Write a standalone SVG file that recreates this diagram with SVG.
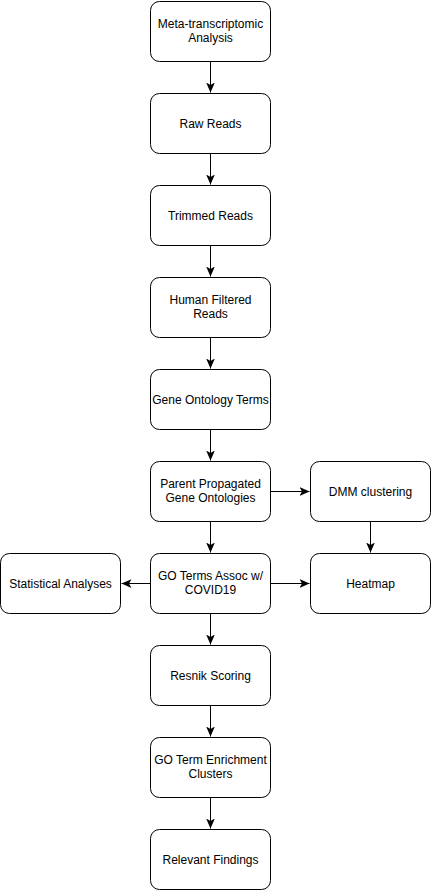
<svg xmlns="http://www.w3.org/2000/svg" width="431" height="891" viewBox="0 0 431 891">
<style>
.n rect{fill:#fff;stroke:#000;stroke-width:1}
.n text{font-family:"Liberation Sans",Arial,sans-serif;font-size:12px;fill:#000;text-anchor:middle}
.c path{fill:none;stroke:#000;stroke-width:1}
</style>
<defs>
<marker id="a" markerUnits="userSpaceOnUse" markerWidth="10" markerHeight="10" viewBox="0 0 8 8" refX="8" refY="4" orient="auto">
<path d="M0,0.5 L8,4 L0,7.5 L2,4 Z" fill="#000"/>
</marker>
</defs>
<rect width="431" height="891" fill="#fff"/>
<g class="c">
<path d="M210.5,61.5 V92.5" marker-end="url(#a)"/>
<path d="M210.5,153.5 V184.5" marker-end="url(#a)"/>
<path d="M210.5,245.5 V276.5" marker-end="url(#a)"/>
<path d="M210.5,337.5 V368.5" marker-end="url(#a)"/>
<path d="M210.5,429.5 V460.5" marker-end="url(#a)"/>
<path d="M210.5,521.5 V552.5" marker-end="url(#a)"/>
<path d="M210.5,613.5 V644.5" marker-end="url(#a)"/>
<path d="M210.5,705.5 V736.5" marker-end="url(#a)"/>
<path d="M210.5,797.5 V828.5" marker-end="url(#a)"/>
<path d="M270.5,491.5 H309.5" marker-end="url(#a)"/>
<path d="M370.5,521.5 V552.5" marker-end="url(#a)"/>
<path d="M270.5,583.5 H309.5" marker-end="url(#a)"/>
<path d="M150.5,583.5 H121.5" marker-end="url(#a)"/>
</g>
<g id="n1" class="n"><rect x="150.5" y="1.5" width="120" height="60" rx="9"/><text x="210.5" y="28">Meta-transcriptomic</text><text x="210.5" y="42">Analysis</text></g>
<g id="n2" class="n"><rect x="150.5" y="93.5" width="120" height="60" rx="9"/><text x="210.5" y="127.5">Raw Reads</text></g>
<g id="n3" class="n"><rect x="150.5" y="185.5" width="120" height="60" rx="9"/><text x="210.5" y="219.5">Trimmed Reads</text></g>
<g id="n4" class="n"><rect x="150.5" y="277.5" width="120" height="60" rx="9"/><text x="210.5" y="304">Human Filtered</text><text x="210.5" y="318">Reads</text></g>
<g id="n5" class="n"><rect x="150.5" y="369.5" width="120" height="60" rx="9"/><text x="210.5" y="403.5">Gene Ontology Terms</text></g>
<g id="n6" class="n"><rect x="150.5" y="461.5" width="120" height="60" rx="9"/><text x="210.5" y="488">Parent Propagated</text><text x="210.5" y="502">Gene Ontologies</text></g>
<g id="n7" class="n"><rect x="150.5" y="553.5" width="120" height="60" rx="9"/><text x="210.5" y="580">GO Terms Assoc w/</text><text x="210.5" y="594">COVID19</text></g>
<g id="n8" class="n"><rect x="150.5" y="645.5" width="120" height="60" rx="9"/><text x="210.5" y="679.5">Resnik Scoring</text></g>
<g id="n9" class="n"><rect x="150.5" y="737.5" width="120" height="60" rx="9"/><text x="210.5" y="764">GO Term Enrichment</text><text x="210.5" y="778">Clusters</text></g>
<g id="n10" class="n"><rect x="150.5" y="829.5" width="120" height="60" rx="9"/><text x="210.5" y="863.5">Relevant Findings</text></g>
<g id="dmm" class="n"><rect x="310.5" y="461.5" width="120" height="60" rx="9"/><text x="370.5" y="495.5">DMM clustering</text></g>
<g id="heatmap" class="n"><rect x="310.5" y="553.5" width="120" height="60" rx="9"/><text x="370.5" y="587.5">Heatmap</text></g>
<g id="stats" class="n"><rect x="0.5" y="553.5" width="120" height="60" rx="9"/><text x="60.5" y="587.5">Statistical Analyses</text></g>
</svg>
